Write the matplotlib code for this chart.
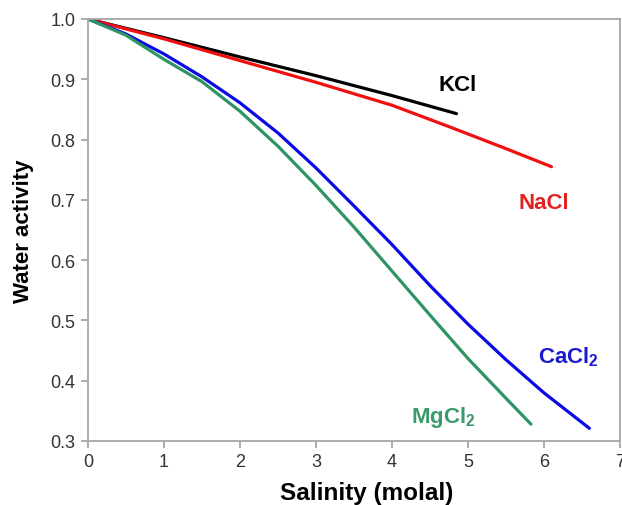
import matplotlib
matplotlib.use("Agg")
import matplotlib.pyplot as plt

plt.rcParams['font.family'] = ['Liberation Sans', 'DejaVu Sans']
plt.rcParams['mathtext.fontset'] = 'custom'
plt.rcParams['mathtext.rm'] = 'Liberation Sans:bold'
plt.rcParams['mathtext.it'] = 'Liberation Sans:bold'
plt.rcParams['mathtext.bf'] = 'Liberation Sans:bold'

# salinity (molal) and water activity
kcl_x = [0, 1, 2, 3, 4, 4.85]
kcl_y = [1.0, 0.969, 0.937, 0.906, 0.873, 0.843]

nacl_x = [0, 1, 2, 3, 4, 4.76, 5.5, 6.1]
nacl_y = [1.0, 0.967, 0.931, 0.895, 0.857, 0.821, 0.785, 0.755]

cacl2_x = [0, 0.5, 1, 1.5, 2, 2.5, 3, 3.5, 4, 4.5, 5, 5.5, 6, 6.6]
cacl2_y = [1.0, 0.975, 0.942, 0.904, 0.861, 0.811, 0.753, 0.690, 0.626, 0.558, 0.494, 0.435, 0.380, 0.321]

mgcl2_x = [0, 0.5, 1, 1.5, 2, 2.5, 3, 3.5, 4, 4.5, 5, 5.5, 5.83]
mgcl2_y = [1.0, 0.973, 0.933, 0.896, 0.847, 0.789, 0.724, 0.655, 0.582, 0.509, 0.437, 0.371, 0.328]

fig = plt.figure(figsize=(6.22, 5.06), dpi=100)
ax = fig.add_axes([0.1415, 0.1265, 0.855, 0.834])

ax.plot(kcl_x, kcl_y, color='black', lw=2.3, solid_capstyle='round')
ax.plot(nacl_x, nacl_y, color='#f01010', lw=2.3, solid_capstyle='round')
ax.plot(cacl2_x, cacl2_y, color='#0a0ae6', lw=2.3, solid_capstyle='round')
ax.plot(mgcl2_x, mgcl2_y, color='#2e9464', lw=2.3, solid_capstyle='round')

ax.text(4.87, 0.892, 'KCl', color='black', fontsize=16, fontweight='bold', ha='center', va='center')
ax.text(6.0, 0.695, 'NaCl', color='#e52020', fontsize=16, fontweight='bold', ha='center', va='center')
ax.text(6.33, 0.44, 'CaCl$_2$', color='#1a1ad2', fontsize=16, fontweight='bold', ha='center', va='center')
ax.text(4.67, 0.341, 'MgCl$_2$', color='#3a9a6a', fontsize=16, fontweight='bold', ha='center', va='center')

ax.set_xlim(0, 7)
ax.set_ylim(0.3, 1.0)
ax.set_xticks(range(0, 8))
ax.set_yticks([0.3, 0.4, 0.5, 0.6, 0.7, 0.8, 0.9, 1.0])
ax.set_yticklabels(['0.3', '0.4', '0.5', '0.6', '0.7', '0.8', '0.9', '1.0'])

for s in ax.spines.values():
    s.set_color('#a6a6a6')
    s.set_linewidth(1.3)
ax.tick_params(direction='out', length=5, width=1.3, color='#a6a6a6',
               labelsize=13, labelcolor='#333333', pad=4)

ax.set_xlabel('Salinity (molal)', fontsize=17.5, fontweight='bold')
ax.xaxis.set_label_coords(0.524, -0.095)
ax.set_ylabel('Water activity', fontsize=16, fontweight='bold')
ax.yaxis.set_label_coords(-0.102, 0.5)

fig.savefig('out.png', dpi=100)
